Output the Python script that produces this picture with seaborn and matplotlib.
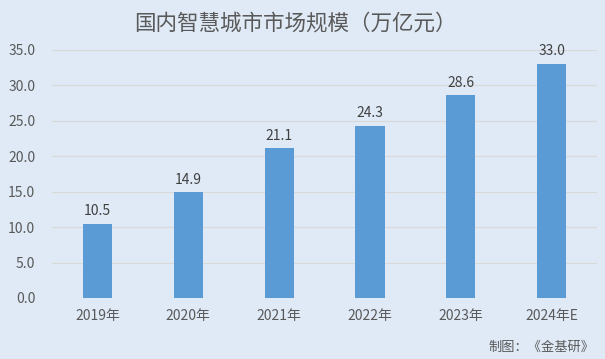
import matplotlib
matplotlib.use("Agg")
import matplotlib.pyplot as plt
import seaborn as sns
import pandas as pd

years = ["2019年", "2020年", "2021年", "2022年", "2023年", "2024年E"]
values = [10.5, 14.9, 21.1, 24.3, 28.6, 33.0]
yticks = [0, 5, 10, 15, 20, 25, 30, 35]

df = pd.DataFrame({"year": years, "value": values})

sns.set_theme(style="white")
plt.rcParams['font.family'] = ['Noto Sans CJK SC', 'DejaVu Sans']

bg = "#dfeaf6"
fig = plt.figure(figsize=(6.05, 3.59), dpi=100, facecolor=bg)
ax = fig.add_axes([0.086, 0.170, 0.901, 0.691])
ax.set_facecolor(bg)

sns.barplot(data=df, x="year", y="value", color="#5b9bd5", width=0.32,
            saturation=1, ax=ax, zorder=3, linewidth=0, edgecolor="none")

ax.set_ylim(0, 35)
ax.set_yticks(yticks)
ax.set_yticklabels([f"{v:.1f}" for v in yticks], color="#595959", fontsize=10)
ax.tick_params(axis='x', colors="#595959", labelsize=10, length=0, pad=8)
ax.tick_params(axis='y', length=0, pad=12)
ax.grid(axis='y', color="#d9d9d9", linewidth=0.9, zorder=0)
ax.set_xlabel("")
ax.set_ylabel("")
for s in ax.spines.values():
    s.set_visible(False)

for i, v in enumerate(values):
    ax.text(i, v + 0.8, f"{v:.1f}", ha="center", va="bottom",
            fontsize=10, color="#404040")

fig.text(0.488, 0.935, "国内智慧城市市场规模（万亿元）", ha="center", va="center",
         fontsize=15.5, color="#595959")
fig.text(0.983, 0.033, "制图：《金基研》", ha="right", va="center",
         fontsize=9.5, color="#595959")

fig.savefig("out.png", dpi=100, facecolor=bg)
